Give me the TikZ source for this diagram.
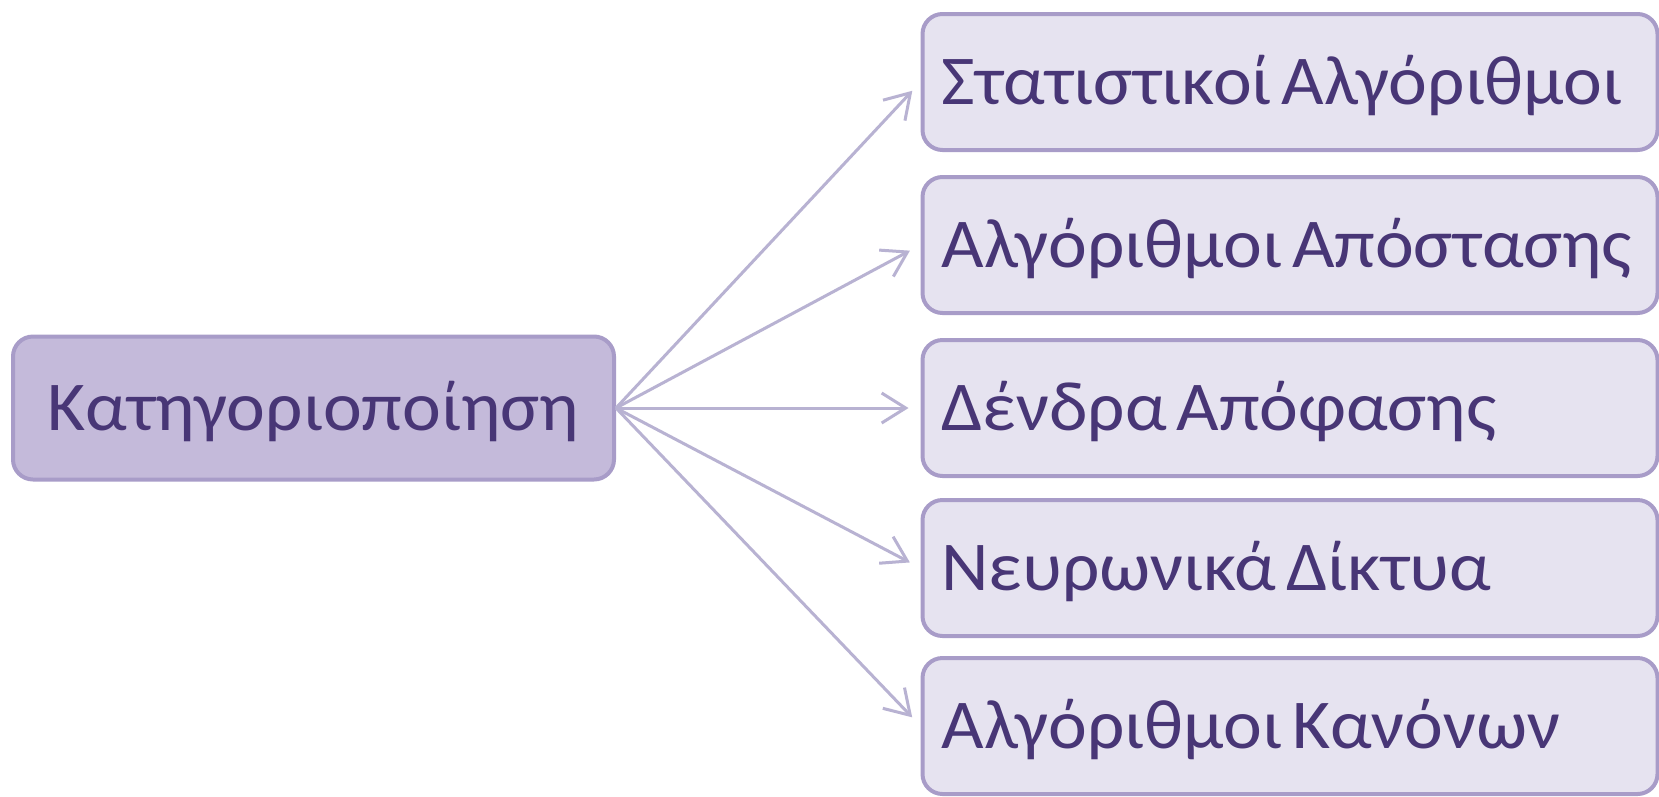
\documentclass[tikz,border=0pt]{standalone}
\usepackage{fontspec}
\setmainfont{Carlito}[FakeStretch=1.05]
\usetikzlibrary{arrows.meta}
\definecolor{rootfill}{RGB}{196,186,218}
\definecolor{leaffill}{RGB}{230,227,240}
\definecolor{boxline}{RGB}{168,156,200}
\definecolor{inkpurple}{RGB}{72,54,118}
\definecolor{linkline}{RGB}{184,178,210}
\tikzset{
  box/.style={draw=boxline, line width=4pt, rounded corners=20pt,
    text=inkpurple, font=\fontsize{70}{74}\selectfont,
    text height=45pt, text depth=0pt,
    execute at begin node={\spaceskip=0.14em\relax}},
  rootbox/.style={box, fill=rootfill, minimum width=601pt, minimum height=143pt,
    inner sep=0pt},
  leafbox/.style={box, fill=leaffill, text width=697pt, align=left,
    inner xsep=19pt, inner ysep=0pt, minimum height=136pt},
  link/.style={draw=linkline, line width=3pt,
    -{Straight Barb[length=24pt,width=30pt,line width=3pt]}, shorten >=12pt}
}
\begin{document}
\begin{tikzpicture}[x=1pt,y=-1pt]
\useasboundingbox (0,0) rectangle (1659,796);
\fill[white] (0,0) rectangle (1659,796);

\node[rootbox] (root) at (313.5,408) {Κατηγοριοποίηση};

\node[leafbox] (stat) at (1290,82)  {Στατιστικοί Αλγόριθμοι};
\node[leafbox] (dist) at (1290,245) {Αλγόριθμοι Απόστασης};
\node[leafbox] (tree) at (1290,408) {Δένδρα Απόφασης};
\node[leafbox] (nn)   at (1290,568) {Νευρωνικά Δίκτυα};
\node[leafbox] (rule) at (1290,726) {Αλγόριθμοι Κανόνων};

\foreach \t in {stat,dist,tree,nn,rule}
  \draw[link] (root.east) -- (\t.west);
\end{tikzpicture}
\end{document}
